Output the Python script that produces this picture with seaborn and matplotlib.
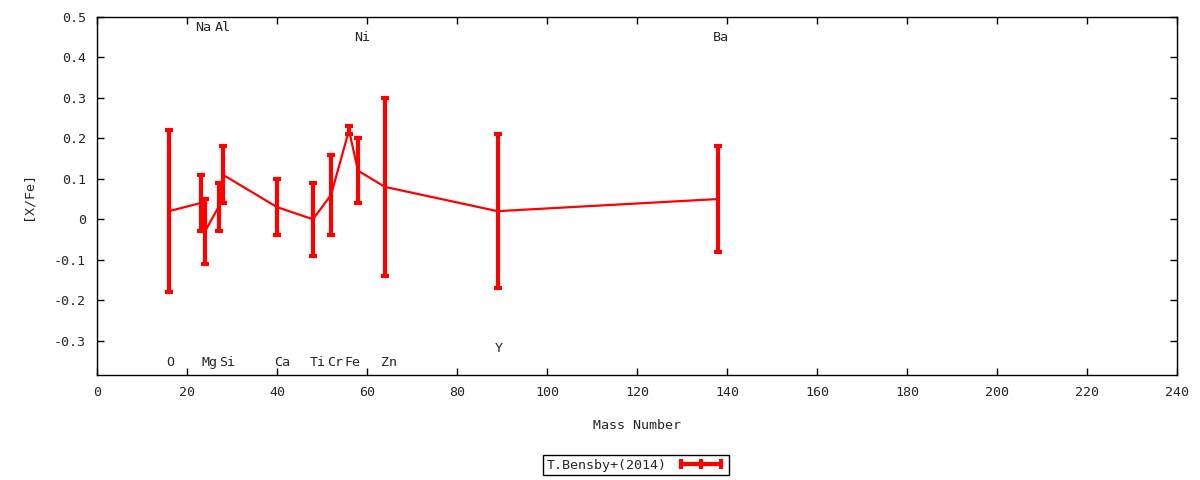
import numpy as np
import pandas as pd
import seaborn as sns
import matplotlib.pyplot as plt
from matplotlib.ticker import FuncFormatter, MultipleLocator
from matplotlib.lines import Line2D

# dados
elementos = ['O', 'Na', 'Mg', 'Al', 'Si', 'Ca', 'Ti', 'Cr', 'Fe', 'Ni', 'Zn', 'Y', 'Ba']
massa = [16, 23, 24, 27, 28, 40, 48, 52, 56, 58, 64, 89, 138]
xfe = [0.02, 0.04, -0.03, 0.03, 0.11, 0.03, 0.00, 0.06, 0.22, 0.12, 0.08, 0.02, 0.05]
erro = [0.20, 0.07, 0.08, 0.06, 0.07, 0.07, 0.09, 0.10, 0.01, 0.08, 0.22, 0.19, 0.13]

# posicao dos rotulos (x = massa)
rot_elem = ['O', 'Na', 'Mg', 'Al', 'Si', 'Ca', 'Ti', 'Cr', 'Fe', 'Ni', 'Zn', 'Y', 'Ba']
rot_x = [15.3, 21.8, 23.3, 26.1, 27.2, 39.3, 47.3, 51.1, 55.1, 57.2, 63.2, 88.3, 136.8]
rot_y = [-0.355, 0.475, -0.355, 0.475, -0.355, -0.355, -0.355, -0.355, -0.355, 0.45, -0.355, -0.32, 0.45]

dados = pd.DataFrame({'massa': massa, 'xfe': xfe, 'erro': erro})

sns.set_style('white')
plt.rcParams['font.family'] = ['DejaVu Sans Mono']
plt.rcParams['font.size'] = 9.6

fig = plt.figure(figsize=(12, 4.8), dpi=100)
ax = fig.add_axes([97 / 1200, 1 - 375 / 480, 1080 / 1200, 358 / 480])

sns.lineplot(data=dados, x='massa', y='xfe', sort=False, estimator=None,
             color='red', linewidth=1.6, ax=ax, legend=False)
ax.errorbar(dados['massa'], dados['xfe'], yerr=dados['erro'], fmt='none',
            ecolor='red', elinewidth=3, capsize=3, capthick=3)

for e, x, y in zip(rot_elem, rot_x, rot_y):
    ax.text(x, y, e, ha='left', va='center', fontsize=9.6)

ax.set_xlim(0, 240)
ax.set_ylim(-0.385, 0.5)
ax.xaxis.set_major_locator(MultipleLocator(20))
ax.yaxis.set_major_locator(MultipleLocator(0.1))
ax.yaxis.set_major_formatter(FuncFormatter(lambda v, p: '%g' % round(v, 2)))
ax.tick_params(direction='in', length=5, width=1, top=True, right=True,
               bottom=True, left=True, labelsize=9.6, pad=8, color='black')
for s in ax.spines.values():
    s.set_color('black')
    s.set_linewidth(1)

ax.set_xlabel('Mass Number', labelpad=14)
ax.set_ylabel('[X/Fe]', labelpad=14)

chave = Line2D([], [], color='red', linewidth=3, marker='|', markersize=7,
               markeredgewidth=3)
fig.legend([chave], ['T.Bensby+(2014)'], loc='center',
           bbox_to_anchor=(636 / 1200, 1 - 465 / 480), markerfirst=False,
           numpoints=3, frameon=True, fancybox=False, edgecolor='black',
           framealpha=1, handlelength=3.6, borderpad=0.25, fontsize=9.6)

plt.savefig('out.png', dpi=100)
